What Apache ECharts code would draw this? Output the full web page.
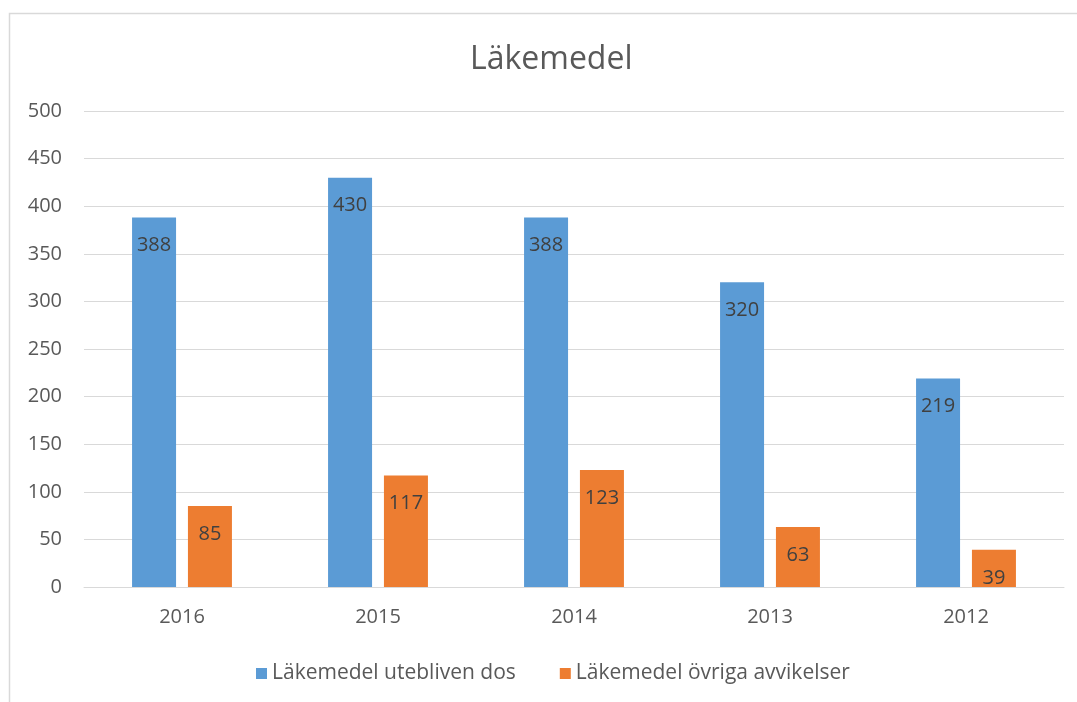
<!DOCTYPE html>
<html>
<head>
<meta charset="utf-8">
<script src="https://cdn.jsdelivr.net/npm/echarts@6/dist/echarts.min.js"></script>
<style>
  html, body { margin: 0; padding: 0; background: #fff; }
  .main { width: 1077px; height: 702px; }
</style>
</head>
<body>
<div class="main" id="main"></div>
<script>
var years = ['2016', '2015', '2014', '2013', '2012'];
var utebliven = [388, 430, 388, 320, 219];
var ovriga = [85, 117, 123, 63, 39];
var seriesNames = ['Läkemedel utebliven dos', 'Läkemedel övriga avvikelser'];

var myChart = echarts.init(document.getElementById('main'));

var font = '"Open Sans", "Noto Sans", sans-serif';

var option = {
    textStyle: { fontFamily: font },
    graphic: [{
        type: 'rect',
        shape: { x: 9.5, y: 13.5, width: 1100, height: 720 },
        style: { fill: 'none', stroke: '#d9d9d9', lineWidth: 1.5 },
        silent: true
    }],
    title: {
        text: 'Läkemedel',
        left: 465,
        top: 39,
        textStyle: { fontFamily: font, fontSize: 32, fontWeight: 'normal', color: '#595959' }
    },
    legend: {
        data: seriesNames,
        bottom: 13,
        left: 251,
        itemWidth: 11,
        itemHeight: 11,
        itemGap: 44,
        icon: 'rect',
        textStyle: { fontFamily: font, fontSize: 21, color: '#595959' }
    },
    grid: { left: 84, right: 13, top: 111, bottom: 115 },
    xAxis: {
        type: 'category',
        data: years,
        axisLine: { lineStyle: { color: '#d9d9d9' } },
        axisTick: { show: false },
        axisLabel: { color: '#595959', fontSize: 20, margin: 20, fontFamily: font }
    },
    yAxis: {
        type: 'value',
        min: 0,
        max: 500,
        interval: 50,
        axisLine: { show: false },
        axisTick: { show: false },
        splitLine: { lineStyle: { color: '#d9d9d9' } },
        axisLabel: { color: '#595959', fontSize: 20, margin: 22, fontFamily: font }
    },
    series: [{
        name: seriesNames[0],
        type: 'bar',
        data: utebliven,
        barWidth: 44,
        barGap: '27%',
        itemStyle: { color: '#5b9bd5' },
        label: { show: true, position: 'insideTop', distance: 18, color: '#404040', fontSize: 20, fontFamily: font }
    }, {
        name: seriesNames[1],
        type: 'bar',
        data: ovriga,
        barWidth: 44,
        barGap: '27%',
        itemStyle: { color: '#ed7d31' },
        label: { show: true, position: 'insideTop', distance: 18, color: '#404040', fontSize: 20, fontFamily: font }
    }]
};

myChart.setOption(option);
</script>
</body>
</html>
